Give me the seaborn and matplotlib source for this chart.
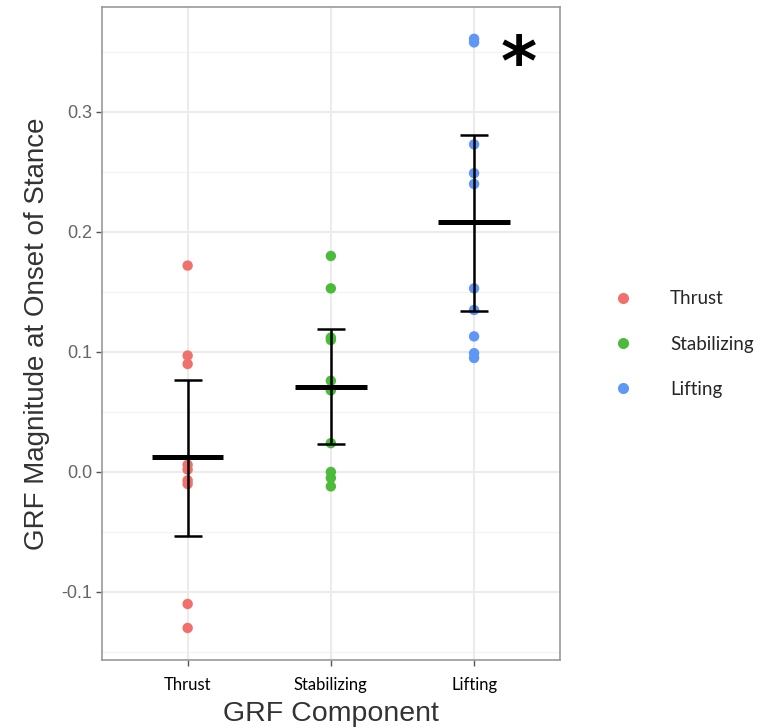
import matplotlib
matplotlib.use("Agg")
import matplotlib.pyplot as plt
import seaborn as sns
import pandas as pd
from matplotlib.lines import Line2D

categories = ["Thrust", "Stabilizing", "Lifting"]
colors = ["#F0716B", "#4CBB3C", "#5E97F6"]

thrust = [0.172, 0.097, 0.090, 0.006, 0.002, -0.007, -0.010, -0.110, -0.130]
stabilizing = [0.180, 0.153, 0.112, 0.110, 0.076, 0.068, 0.024, 0.000, -0.005, -0.012]
lifting = [0.361, 0.358, 0.273, 0.249, 0.240, 0.153, 0.135, 0.113, 0.099, 0.095]

means = [0.0125, 0.071, 0.208]
err_low = [-0.053, 0.023, 0.134]
err_high = [0.077, 0.119, 0.281]

yticks = [-0.1, 0.0, 0.1, 0.2, 0.3]
ytick_labels = ["-0.1", "0.0", "0.1", "0.2", "0.3"]

rows = []
for cat, vals in zip(categories, [thrust, stabilizing, lifting]):
    for v in vals:
        rows.append({"GRF Component": cat, "value": v})
df = pd.DataFrame(rows)

sns.set_theme(style="white")
plt.rcParams["font.family"] = ["Liberation Sans", "DejaVu Sans"]

fig = plt.figure(figsize=(7.68, 7.28), dpi=100)
ax = fig.add_axes([101.7 / 768, 68 / 728, (560 - 101.7) / 768, (660 - 7) / 728])

# grid
for y in [-0.15, -0.05, 0.05, 0.15, 0.25, 0.35]:
    ax.axhline(y, color="#F2F2F2", lw=0.8, zorder=0)
for y in yticks:
    ax.axhline(y, color="#EBEBEB", lw=1.5, zorder=0)
for x in range(3):
    ax.axvline(x, color="#EBEBEB", lw=1.5, zorder=0)

sns.stripplot(data=df, x="GRF Component", y="value", hue="GRF Component",
              order=categories, hue_order=categories, palette=colors,
              jitter=False, size=7.5, linewidth=0, ax=ax, legend=False, zorder=2)

xs = list(range(len(categories)))
yerr = [[m - lo for m, lo in zip(means, err_low)], [hi - m for m, hi in zip(means, err_high)]]
ax.errorbar(xs, means, yerr=yerr, fmt="none", ecolor="black", elinewidth=1.8,
            capsize=10, capthick=1.8, zorder=3)
ax.hlines(means, [x - 0.25 for x in xs], [x + 0.25 for x in xs], color="black",
          lw=3.6, zorder=4)

ax.text(2.31, 0.339, "*", fontsize=50, fontweight="bold", ha="center", va="center",
        family="DejaVu Sans", color="black")

ax.set_xlim(-0.6, 2.6)
ax.set_ylim(-0.1567, 0.3875)
ax.set_yticks(yticks)
ax.set_yticklabels(ytick_labels, color="#666666", fontsize=13)
ax.set_xticks(xs)
ax.set_xticklabels(categories, family=["Lato", "DejaVu Sans"], fontsize=12, color="black")
ax.tick_params(axis="both", length=4, width=1, color="#555555", direction="out",
               left=True, bottom=True)
ax.tick_params(axis="y", pad=3)
ax.tick_params(axis="x", pad=8)
ax.set_xlabel("GRF Component", fontsize=20.5, color="#333333", labelpad=6)
ax.set_ylabel("GRF Magnitude at Onset of Stance", fontsize=20, color="#333333", labelpad=8)
for s in ax.spines.values():
    s.set_visible(True)
    s.set_color("#999999")
    s.set_linewidth(1.2)

handles = [Line2D([0], [0], marker="o", color="none", markerfacecolor=c,
                  markeredgecolor="none", markersize=8) for c in colors]
fig.legend(handles, categories, loc="upper left", bbox_to_anchor=(597 / 768, 1 - 283 / 728),
           frameon=False, prop={"family": ["Lato", "DejaVu Sans"], "size": 13.5},
           labelspacing=1.5, handletextpad=1.5, borderaxespad=0)

fig.savefig("out.png", dpi=100)
